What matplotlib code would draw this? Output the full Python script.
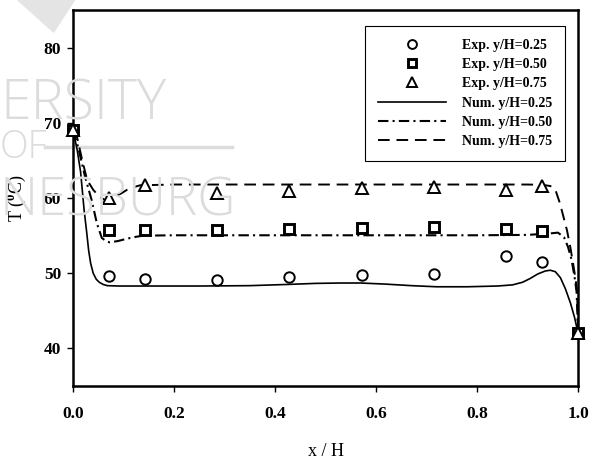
import numpy as np
import matplotlib
matplotlib.use('Agg')
import matplotlib.pyplot as plt
from matplotlib.patches import Polygon

plt.rcParams['font.family'] = ['Liberation Serif', 'DejaVu Serif']
plt.rcParams['font.weight'] = 'bold'
plt.rcParams['mathtext.fontset'] = 'custom'
plt.rcParams['mathtext.rm'] = 'Liberation Serif:bold'
plt.rcParams['mathtext.bf'] = 'Liberation Serif:bold'

# measured temperatures along the cavity (x/H = k/14)
xExp = [0.0, 1/14, 2/14, 4/14, 6/14, 8/14, 10/14, 12/14, 13/14, 1.0]
tExp25 = [69.0, 49.6, 49.3, 49.1, 49.5, 49.8, 49.9, 52.3, 51.5, 42.0]
tExp50 = [69.0, 55.7, 55.8, 55.7, 55.9, 56.0, 56.1, 55.9, 55.6, 42.0]
tExp75 = [69.0, 60.0, 61.7, 60.7, 61.0, 61.3, 61.5, 61.1, 61.6, 42.0]

# numerical profiles
xNum25 = [0.0, 0.008, 0.015, 0.022, 0.027, 0.031, 0.035, 0.04, 0.046, 0.052, 0.06, 0.068,
          0.09, 0.15, 0.25, 0.35, 0.42, 0.48, 0.53, 0.57, 0.62, 0.67, 0.72, 0.78, 0.84,
          0.87, 0.89, 0.905, 0.92, 0.935, 0.945, 0.955, 0.965, 0.975, 0.985, 0.993, 1.0]
tNum25 = [69.0, 66.5, 63.5, 58.4, 55.5, 53.0, 51.3, 50.0, 49.2, 48.8, 48.5, 48.35,
          48.3, 48.3, 48.3, 48.35, 48.5, 48.65, 48.7, 48.7, 48.55, 48.35, 48.2, 48.2, 48.3,
          48.45, 48.8, 49.3, 49.9, 50.3, 50.4, 50.2, 49.4, 47.9, 46.0, 44.1, 42.0]

xNum50 = [0.0, 0.01, 0.024, 0.037, 0.047, 0.057, 0.065, 0.073, 0.09, 0.107, 0.125, 0.139,
          0.2, 0.3, 0.4, 0.5, 0.6, 0.7, 0.8, 0.9, 0.945, 0.96, 0.972, 0.98, 0.987, 0.993,
          0.997, 1.0]
tNum50 = [69.0, 66.8, 62.8, 59.7, 56.7, 54.7, 54.3, 54.1, 54.3, 54.6, 54.85, 55.0,
          55.05, 55.05, 55.05, 55.05, 55.05, 55.05, 55.05, 55.1, 55.3, 55.4, 54.8, 53.5,
          51.8, 49.5, 47.5, 42.0]

xNum75 = [0.0, 0.008, 0.018, 0.028, 0.04, 0.053, 0.062, 0.07, 0.08, 0.095, 0.107, 0.12,
          0.133, 0.2, 0.3, 0.4, 0.5, 0.6, 0.7, 0.8, 0.9, 0.93, 0.945, 0.955, 0.964, 0.971,
          0.978, 0.985, 0.99, 0.995, 0.998, 1.0]
tNum75 = [69.0, 68.1, 65.1, 62.4, 61.1, 60.1, 59.8, 59.8, 60.1, 60.6, 61.1, 61.45,
          61.7, 61.8, 61.8, 61.8, 61.8, 61.8, 61.8, 61.8, 61.8, 61.75, 61.6, 61.1, 59.3,
          57.5, 55.7, 53.3, 51.3, 49.2, 47.5, 42.0]

xTicks = [0.0, 0.2, 0.4, 0.6, 0.8, 1.0]
yTicks = [40, 50, 60, 70, 80]

fig = plt.figure(figsize=(5.96, 4.59), dpi=100)

# faint watermark behind everything
wmColor = '#dcdcdc'
fig.text(0.0, 0.74, 'ERSITY', ha='left', va='baseline', family='Open Sans',
         fontweight='light', color=wmColor, fontsize=40, zorder=0)
fig.text(0.0, 0.655, 'OF', ha='left', va='baseline', family='Open Sans',
         fontweight='light', color=wmColor, fontsize=27, zorder=0)
fig.add_artist(plt.Line2D([0.075, 0.39], [0.68, 0.68], color=wmColor, lw=2.5,
                          transform=fig.transFigure, zorder=0))
fig.text(0.0, 0.53, 'NESBURG', ha='left', va='baseline', family='Open Sans',
         fontweight='light', color=wmColor, fontsize=38, zorder=0)
fig.add_artist(Polygon([[0.03, 1.0], [0.125, 1.0], [0.09, 0.93]], closed=True,
                       transform=fig.transFigure, color='#e4e4e4', zorder=0))

ax = fig.add_axes([0.1225, 0.159, 0.8475, 0.819])
ax.patch.set_alpha(0)

l1, = ax.plot(xNum25, tNum25, '-', color='black', lw=1.2)
l2, = ax.plot(xNum50, tNum50, color='black', lw=1.5, dashes=(5, 2, 1, 2))
l3, = ax.plot(xNum75, tNum75, color='black', lw=1.4, dashes=(6, 3.5))

m1, = ax.plot(xExp, tExp25, 'o', ms=7.5, mfc='white', mec='black', mew=1.4,
              clip_on=False, zorder=4)
m2, = ax.plot(xExp, tExp50, 's', ms=7.3, mfc='white', mec='black', mew=2.1,
              clip_on=False, zorder=4)
m3, = ax.plot(xExp, tExp75, '^', ms=8.0, mfc='white', mec='black', mew=1.4,
              clip_on=False, zorder=5)

ax.set_xlim(0, 1)
ax.set_ylim(35, 85)
ax.set_xticks(xTicks)
ax.set_xticklabels(['{:.1f}'.format(v) for v in xTicks])
ax.set_yticks(yTicks)
ax.tick_params(direction='out', length=4.5, width=1.0, labelsize=12.5,
               top=False, right=False)
ax.tick_params(axis='x', pad=10)
ax.tick_params(axis='y', pad=4)
for s in ax.spines.values():
    s.set_linewidth(1.8)

ax.set_xlabel('x / H', fontsize=13, labelpad=15)
ax.set_ylabel(r'T ($^{0}$C)', fontsize=13, labelpad=11)

leg = ax.legend([m1, m2, m3, l1, l2, l3],
                ['Exp. y/H=0.25', 'Exp. y/H=0.50', 'Exp. y/H=0.75',
                 'Num. y/H=0.25', 'Num. y/H=0.50', 'Num. y/H=0.75'],
                loc='upper right', bbox_to_anchor=(0.974, 0.957), borderaxespad=0,
                fontsize=10, labelspacing=0.45, handlelength=4.9, handletextpad=1.2,
                borderpad=0.9, fancybox=False, framealpha=1, edgecolor='black',
                markerscale=0.85)
leg.get_frame().set_linewidth(0.8)

plt.savefig('out.png', dpi=100)
